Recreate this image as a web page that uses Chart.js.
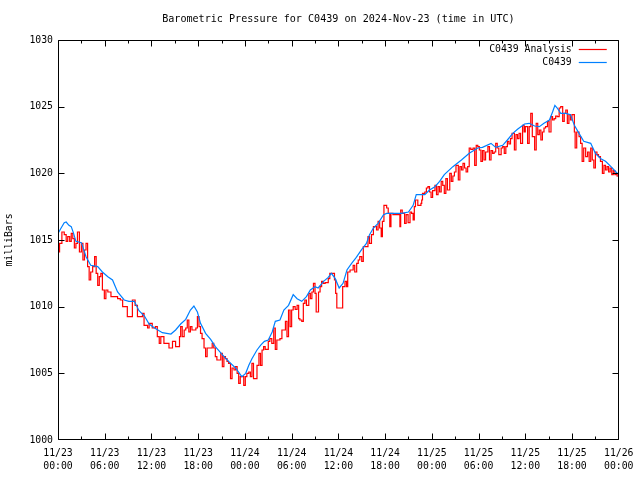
<!DOCTYPE html>
<html><head><meta charset="utf-8">
<script src="https://cdn.jsdelivr.net/npm/chart.js@4/dist/chart.umd.min.js"></script>
<style>html,body{margin:0;padding:0;background:#fff}#wrap{width:640px;height:480px}</style>
</head><body><div id="wrap"><canvas id="c" width="640" height="480"></canvas></div>
<script>
const chartTitle = 'Barometric Pressure for C0439 on 2024-Nov-23 (time in UTC)';
const yAxisTitle = 'milliBars';
const seriesNames = ['C0439 Analysis', 'C0439'];
const seriesColors = ['#ff0000', '#0080ff'];
const xTickHours = [0, 6, 12, 18, 24, 30, 36, 42, 48, 54, 60, 66, 72];
const xTickDates = ['11/23','11/23','11/23','11/23','11/24','11/24','11/24','11/24','11/25','11/25','11/25','11/25','11/26'];
const xTickTimes = ['00:00','06:00','12:00','18:00','00:00','06:00','12:00','18:00','00:00','06:00','12:00','18:00','00:00'];
const yTickValues = [1000, 1005, 1010, 1015, 1020, 1025, 1030];

// hours since 2024-11-23 00:00 UTC
const stationHours = [
 0,0.4,0.8,1.05,1.4,1.7,2.0,2.3,3.0,3.6,
 4.2,5.1,5.7,6.4,7.0,7.65,8.5,9.1,9.8,10.4,
 11.1,11.7,12.4,13.4,14.5,15.1,15.75,16.4,17.0,17.45,
 17.9,18.3,18.95,19.6,20.2,21.1,21.9,22.8,23.6,24.1,
 24.5,24.9,25.55,26.0,26.5,27.0,27.5,27.9,28.5,29.0,
 29.6,30.2,30.7,31.3,31.9,32.4,33.0,33.4,34.1,34.7,
 35.1,35.6,36.1,36.6,37.1,37.7,38.3,39.0,39.6,40.0,
 40.5,41.1,41.8,42.2,43.0,44.1,45.0,45.6,46.0,47.1,
 47.7,48.4,49.0,49.6,50.7,51.8,52.8,53.9,54.5,55.6,
 56.2,57.1,57.7,58.4,59.0,59.9,60.5,61.2,61.8,62.4,
 63.1,63.5,63.8,64.1,64.55,65.2,65.8,66.3,66.9,67.5,
 68.4,69.0,69.7,70.3,71.0,71.65,72.0
];
const stationValues = [
 1015.5,1015.9,1016.3,1016.35,1016.1,1016.0,1015.5,1014.9,1014.8,1013.75,
 1013.1,1013.0,1012.6,1012.25,1012.0,1011.1,1010.5,1010.4,1010.4,1009.7,
 1009.3,1008.7,1008.4,1008.05,1007.95,1008.25,1008.7,1009.05,1009.75,1010.05,
 1009.6,1008.75,1008.0,1007.55,1007.0,1006.4,1005.9,1005.4,1004.75,1005.0,
 1005.6,1006.1,1006.75,1007.1,1007.4,1007.5,1008.1,1008.9,1009.0,1009.75,
 1010.1,1010.9,1010.6,1010.4,1010.75,1011.25,1011.5,1011.4,1011.9,1012.2,
 1012.5,1012.1,1011.4,1011.75,1012.75,1013.25,1013.7,1014.3,1014.75,1015.4,
 1015.9,1016.25,1016.9,1017.0,1017.0,1017.0,1017.1,1017.6,1018.4,1018.4,
 1018.75,1019.0,1019.4,1019.9,1020.5,1021.0,1021.5,1021.9,1021.95,1022.25,
 1021.95,1022.1,1022.5,1023.0,1023.3,1023.7,1023.75,1023.55,1023.5,1023.75,
 1024.0,1024.6,1025.1,1024.9,1024.5,1024.5,1024.4,1023.6,1023.0,1022.4,
 1022.25,1021.5,1021.1,1020.9,1020.5,1020.1,1019.9
];

const analysisHours = [
 0.0,0.2,0.5,0.8,1.05,1.25,1.5,1.7,1.9,2.1,
 2.3,2.5,2.75,3.0,3.2,3.4,3.6,3.8,4.0,4.2,
 4.45,4.7,4.9,5.1,5.3,5.5,5.7,5.95,6.15,6.4,
 6.8,7.65,8.0,8.3,8.7,8.9,9.35,9.55,9.9,10.2,
 10.6,10.85,11.05,11.5,11.7,12.1,12.5,12.75,13.0,13.2,
 13.4,13.6,14.0,14.25,14.5,14.7,14.9,15.1,15.5,15.6,
 15.75,15.95,16.2,16.4,16.6,16.8,17.0,17.2,17.7,17.9,
 18.1,18.3,18.5,18.75,18.95,19.15,19.6,19.8,20.0,20.2,
 20.4,20.7,20.9,21.1,21.3,21.5,21.7,21.9,22.15,22.35,
 22.6,22.8,23.0,23.2,23.4,23.6,23.85,24.05,24.25,24.5,
 24.7,24.9,25.1,25.35,25.55,25.8,26.0,26.2,26.4,26.6,
 27.0,27.2,27.45,27.7,27.9,28.1,28.3,28.5,28.75,29.0,
 29.2,29.4,29.6,29.8,30.0,30.2,30.45,30.7,30.9,31.05,
 31.3,31.5,31.7,31.9,32.2,32.4,32.6,32.8,33.0,33.15,
 33.35,33.45,33.65,33.85,34.05,34.3,34.7,34.9,35.3,35.5,
 35.65,35.8,36.4,36.55,36.85,37.05,37.2,37.5,37.9,38.1,
 38.35,38.55,38.75,39.0,39.2,39.6,39.8,40.0,40.25,40.5,
 40.7,40.9,41.1,41.3,41.5,41.65,41.85,42.2,42.4,42.6,
 42.75,43.0,43.7,43.9,44.0,44.2,44.5,44.7,44.95,45.2,
 45.4,45.6,45.75,45.9,46.2,46.4,46.6,46.7,46.8,47.1,
 47.3,47.5,47.7,47.9,48.1,48.4,48.6,48.8,49.0,49.2,
 49.4,49.6,49.8,50.0,50.3,50.5,50.7,50.9,51.1,51.4,
 51.6,51.8,52.0,52.2,52.4,52.6,52.8,53.0,53.3,53.5,
 53.7,53.9,54.1,54.3,54.5,54.7,54.9,55.2,55.4,55.6,
 55.8,56.0,56.2,56.4,56.6,56.9,57.1,57.3,57.5,57.7,
 57.9,58.1,58.3,58.6,58.8,59.0,59.2,59.4,59.65,59.85,
 60.0,60.3,60.5,60.7,60.9,61.2,61.4,61.6,61.8,62.0,
 62.2,62.4,62.6,62.85,63.05,63.3,63.5,63.7,63.9,64.1,
 64.35,64.55,64.8,65.0,65.2,65.4,65.6,65.8,66.0,66.3,
 66.4,66.6,66.9,67.1,67.3,67.5,67.75,68.0,68.2,68.4,
 68.6,68.8,69.0,69.2,69.4,69.65,69.9,70.1,70.3,70.5,
 70.7,70.9,71.1,71.3,71.5,71.8
];
const analysisValues = [
 1014.1,1014.75,1015.6,1015.4,1014.9,1015.25,1014.9,1015.5,1015.1,1014.4,
 1014.75,1015.6,1014.1,1014.75,1013.5,1014.25,1014.75,1013.0,1012.0,1012.6,
 1013.0,1013.75,1012.5,1011.6,1012.25,1012.5,1011.25,1010.6,1011.25,1011.1,
 1010.75,1010.6,1010.5,1010.0,1010.0,1009.25,1009.25,1010.5,1010.1,1009.25,
 1009.25,1009.5,1008.6,1008.4,1008.75,1008.4,1008.5,1007.75,1007.25,1007.75,
 1007.75,1007.25,1007.25,1006.9,1006.9,1007.4,1007.4,1007.0,1007.0,1007.75,
 1008.5,1007.75,1008.25,1008.4,1009.0,1008.1,1008.5,1008.25,1008.4,1009.25,
 1008.5,1008.0,1007.6,1006.9,1006.25,1006.9,1006.9,1007.25,1006.9,1006.25,
 1006.0,1006.0,1006.5,1005.5,1006.25,1006.1,1005.9,1005.75,1004.6,1005.4,
 1005.25,1005.5,1005.0,1004.25,1004.75,1004.75,1004.1,1004.75,1005.0,1005.1,
 1004.75,1005.75,1004.6,1004.6,1005.6,1006.5,1005.6,1006.75,1007.0,1006.8,
 1007.4,1007.6,1007.25,1008.4,1006.8,1007.5,1007.5,1007.6,1008.25,1008.25,
 1008.9,1007.75,1009.75,1008.5,1009.75,1010.0,1009.8,1010.1,1009.1,1009.0,
 1008.9,1010.25,1010.5,1010.1,1011.0,1010.6,1011.1,1011.75,1011.0,1009.6,
 1009.6,1011.1,1011.5,1011.9,1011.75,1011.8,1012.1,1012.5,1012.5,1012.0,
 1011.0,1009.9,1009.9,1011.5,1011.9,1011.5,1012.6,1012.75,1013.1,1012.6,
 1013.25,1013.5,1013.75,1013.4,1014.5,1014.5,1015.25,1014.75,1015.4,1016.0,
 1016.0,1015.75,1016.4,1015.9,1015.25,1016.4,1017.6,1017.4,1017.0,1016.0,
 1017.0,1016.9,1016.9,1016.0,1017.25,1017.0,1016.25,1016.9,1016.3,1017.1,
 1017.0,1016.5,1017.5,1018.0,1017.6,1017.6,1017.75,1018.0,1018.5,1018.6,
 1018.9,1019.0,1018.6,1018.2,1018.7,1019.1,1018.4,1019.0,1018.6,1019.4,
 1019.1,1018.5,1019.6,1018.75,1020.0,1019.4,1019.8,1020.1,1020.6,1019.5,
 1020.5,1020.25,1020.75,1020.4,1020.1,1020.5,1021.9,1021.8,1021.9,1020.6,
 1022.1,1022.0,1021.75,1020.9,1021.7,1021.0,1021.6,1022.0,1021.0,1021.7,
 1021.5,1021.6,1022.25,1021.9,1021.4,1021.9,1022.0,1021.5,1022.0,1022.4,
 1022.2,1022.6,1023.0,1021.75,1022.9,1022.6,1023.0,1022.25,1023.6,1023.1,
 1023.5,1022.25,1023.5,1024.5,1022.75,1021.75,1023.75,1022.9,1023.25,1022.5,
 1023.1,1023.4,1023.5,1023.9,1023.1,1024.25,1024.0,1024.1,1024.3,1024.25,
 1024.9,1025.0,1023.9,1024.5,1024.75,1023.75,1024.4,1024.0,1024.4,1023.1,
 1021.9,1023.1,1022.75,1022.25,1020.9,1021.9,1021.25,1021.6,1020.9,1021.9,
 1021.0,1020.4,1021.6,1021.4,1021.25,1020.9,1020.0,1020.6,1020.25,1020.5,
 1020.1,1020.4,1019.9,1020.2,1019.9,1019.75
];

const FONT = "'DejaVu Sans Mono', monospace";
const FS = 9.8;
const TITLE_FS = 10.1;

function toPoints(hs, vs) {
  const n = Math.min(hs.length, vs.length);
  const out = [];
  for (let i = 0; i < n; i++) out.push({x: hs[i], y: vs[i]});
  return out;
}

const framePlugin = {
  id: 'frameTicks',
  afterDatasetsDraw(chart) {
    const {ctx, chartArea: a, scales} = chart;
    const xs = scales.x, ys = scales.y;
    ctx.save();
    ctx.strokeStyle = '#000';
    ctx.lineWidth = 1;
    const L = Math.round(a.left) + 0.5, R = Math.round(a.right) - 0.5;
    const T = Math.round(a.top) + 0.5, B = Math.round(a.bottom) - 0.5;
    ctx.beginPath();
    ctx.rect(L, T, R - L, B - T);
    const first = xTickHours[0], last = xTickHours[xTickHours.length - 1];
    const step = (xTickHours[1] - xTickHours[0]) / 2;
    for (let h = first; h <= last + 1e-9; h += step) {
      let px = Math.round(xs.getPixelForValue(h)) + 0.5;
      px = Math.max(L, Math.min(R, px));
      const major = xTickHours.includes(h);
      const len = major ? 6 : 3;
      ctx.moveTo(px, B); ctx.lineTo(px, B - len);
      ctx.moveTo(px, T); ctx.lineTo(px, T + len);
    }
    yTickValues.forEach(v => {
      let py = Math.round(ys.getPixelForValue(v)) + 0.5;
      py = Math.max(T, Math.min(B, py));
      ctx.moveTo(L, py); ctx.lineTo(L + 6, py);
      ctx.moveTo(R, py); ctx.lineTo(R - 6, py);
    });
    ctx.stroke();

    // title
    ctx.fillStyle = '#000';
    ctx.font = TITLE_FS + 'px ' + FONT;
    ctx.textAlign = 'center';
    ctx.textBaseline = 'middle';
    ctx.fillText(chartTitle, (a.left + a.right) / 2, 19.5);

    // legend (inside, top right)
    ctx.font = FS + 'px ' + FONT;
    chart.data.datasets.forEach((ds, i) => {
      const yy = Math.round(a.top + 9 + i * 13) + 0.5;
      ctx.textAlign = 'right';
      ctx.fillStyle = '#000';
      ctx.fillText(ds.label, a.right - 47, yy);
      ctx.strokeStyle = ds.borderColor;
      ctx.lineWidth = 1.2;
      ctx.beginPath();
      ctx.moveTo(a.right - 40, yy);
      ctx.lineTo(a.right - 12, yy);
      ctx.stroke();
    });
    ctx.restore();
  }
};

new Chart(document.getElementById('c'), {
  type: 'line',
  data: {
    datasets: [
      {label: seriesNames[0], data: toPoints(analysisHours, analysisValues), borderColor: seriesColors[0],
       borderWidth: 1.2, pointRadius: 0, tension: 0, stepped: true, order: 1, fill: false},
      {label: seriesNames[1], data: toPoints(stationHours, stationValues), borderColor: seriesColors[1],
       borderWidth: 1.2, pointRadius: 0, tension: 0, order: 0, fill: false}
    ]
  },
  options: {
    responsive: false,
    animation: false,
    devicePixelRatio: 1,
    layout: {padding: {left: 0, right: 19, top: 40, bottom: 0}},
    plugins: {legend: {display: false}, title: {display: false}, tooltip: {enabled: false}},
    scales: {
      x: {
        type: 'linear',
        min: xTickHours[0], max: xTickHours[xTickHours.length - 1],
        grid: {display: false, drawTicks: false}, border: {display: false},
        afterBuildTicks: s => { s.ticks = xTickHours.map(v => ({value: v})); },
        afterFit: s => { s.height = 40; },
        ticks: {
          autoSkip: false, maxRotation: 0, minRotation: 0, padding: 6.5, color: '#000',
          font: {family: FONT, size: FS, lineHeight: 13 / FS},
          callback: v => { const i = xTickHours.indexOf(v); return i < 0 ? '' : [xTickDates[i], xTickTimes[i]]; }
        }
      },
      y: {
        min: yTickValues[0], max: yTickValues[yTickValues.length - 1],
        grid: {display: false, drawTicks: false}, border: {display: false},
        afterBuildTicks: s => { s.ticks = yTickValues.map(v => ({value: v})); },
        afterFit: s => { s.width = 58; },
        ticks: {padding: 5, color: '#000', font: {family: FONT, size: FS}, callback: v => String(v)},
        title: {display: true, text: yAxisTitle, color: '#000', font: {family: FONT, size: FS}, padding: {top: 4, bottom: 4}}
      }
    }
  },
  plugins: [framePlugin]
});
</script>
</body></html>
